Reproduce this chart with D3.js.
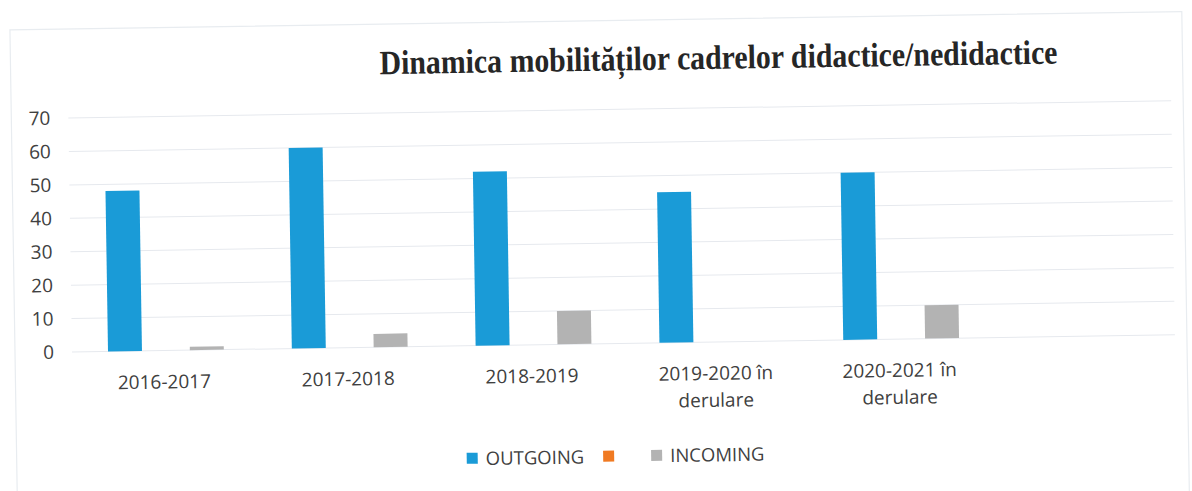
<!DOCTYPE html>
<html>
<head>
<meta charset="utf-8">
<script src="https://cdn.jsdelivr.net/npm/d3@7"></script>
<style>
  body { margin: 0; background: #fff; }
  svg { display: block; }
</style>
</head>
<body>
<div id="chart"></div>
<script>
const categories = ["2016-2017", "2017-2018", "2018-2019", "2019-2020 în\nderulare", "2020-2021 în\nderulare", ""];
const seriesNames = ["OUTGOING", "", "INCOMING"];
const outgoing = [48, 60, 52, 45, 50];
const unnamed = [0, 0, 0, 0, 0];
const incoming = [1, 4, 10, 0, 10];
const yTicks = [0, 10, 20, 30, 40, 50, 60, 70];
const colors = ["#1a9bd7", "#f07a22", "#b3b3b3"];

const width = 1192,
  height = 491;

const svg = d3.select("#chart")
  .append("svg")
  .attr("width", width)
  .attr("height", height);

// the scan is tilted a little, so everything sits in one rotated group
const g = svg.append("g")
  .attr("transform", "rotate(-0.9, 72, 352)");

g.append("rect")
  .attr("x", 15).attr("y", 29)
  .attr("width", 1172).attr("height", 480)
  .attr("fill", "none")
  .attr("stroke", "#e8ecf0")
  .attr("stroke-width", 1.2);

g.append("text")
  .attr("x", 384)
  .attr("y", 79)
  .attr("textLength", 678)
  .attr("lengthAdjust", "spacingAndGlyphs")
  .attr("font-family", "Liberation Serif, Times New Roman, serif")
  .attr("font-weight", "bold")
  .attr("font-size", 34)
  .attr("fill", "#262626")
  .text("Dinamica mobilităților cadrelor didactice/nedidactice");

const y = d3.scaleLinear()
  .domain([0, 70])
  .range([352, 118]);

const x0 = d3.scaleBand()
  .domain(categories)
  .range([72, 1175])
  .paddingInner(0.37)
  .paddingOuter(0.185);

const x1 = d3.scaleBand()
  .domain(d3.range(seriesNames.length))
  .range([0, x0.bandwidth()])
  .paddingInner(0.17);

// gridlines
g.append("g")
  .selectAll("line")
  .data(yTicks)
  .join("line")
  .attr("x1", 72)
  .attr("x2", 1175)
  .attr("y1", d => y(d))
  .attr("y2", d => y(d))
  .attr("stroke", "#e6e9ee")
  .attr("stroke-width", 1);

// y labels
g.append("g")
  .selectAll("text")
  .data(yTicks)
  .join("text")
  .attr("x", 54)
  .attr("y", d => y(d))
  .attr("dy", "0.35em")
  .attr("text-anchor", "end")
  .attr("font-family", "Open Sans, sans-serif")
  .attr("font-size", 19)
  .attr("fill", "#404040")
  .text(d => d);

const series = [outgoing, unnamed, incoming];

const groups = g.append("g")
  .selectAll("g")
  .data(categories.slice(0, outgoing.length))
  .join("g")
  .attr("transform", d => `translate(${x0(d)},0)`);

groups.selectAll("rect")
  .data((d, i) => series.map((s, k) => ({ k, v: s[i] })))
  .join("rect")
  .attr("x", d => x1(d.k) + 2)
  .attr("width", x1.bandwidth())
  .attr("y", d => y(d.v))
  .attr("height", d => y(0) - y(d.v))
  .attr("fill", d => colors[d.k]);

// category labels
g.append("g")
  .selectAll("text")
  .data(categories)
  .join("text")
  .attr("x", d => x0(d) + x0.bandwidth() / 2)
  .attr("y", 390)
  .attr("text-anchor", "middle")
  .attr("font-family", "Open Sans, sans-serif")
  .attr("font-size", 19)
  .attr("fill", "#404040")
  .each(function (d) {
    const lines = d.split("\n");
    d3.select(this).selectAll("tspan")
      .data(lines)
      .join("tspan")
      .attr("x", x0(d) + x0.bandwidth() / 2)
      .attr("dy", (l, i) => i === 0 ? 0 : 27)
      .text(l => l);
  });

// legend
const legend = g.append("g")
  .attr("transform", "translate(465,465)");

let lx = 0;
seriesNames.forEach((name, k) => {
  legend.append("rect")
    .attr("x", lx)
    .attr("y", -6)
    .attr("width", 11)
    .attr("height", 11)
    .attr("fill", colors[k]);
  const t = legend.append("text")
    .attr("x", lx + 19)
    .attr("y", 0)
    .attr("dy", "0.35em")
    .attr("font-family", "Open Sans, sans-serif")
    .attr("font-size", 18.5)
    .attr("fill", "#404040")
    .text(name);
  const w = name ? t.node().getComputedTextLength() : 10;
  lx += 19 + w + 19;
});
</script>
</body>
</html>
